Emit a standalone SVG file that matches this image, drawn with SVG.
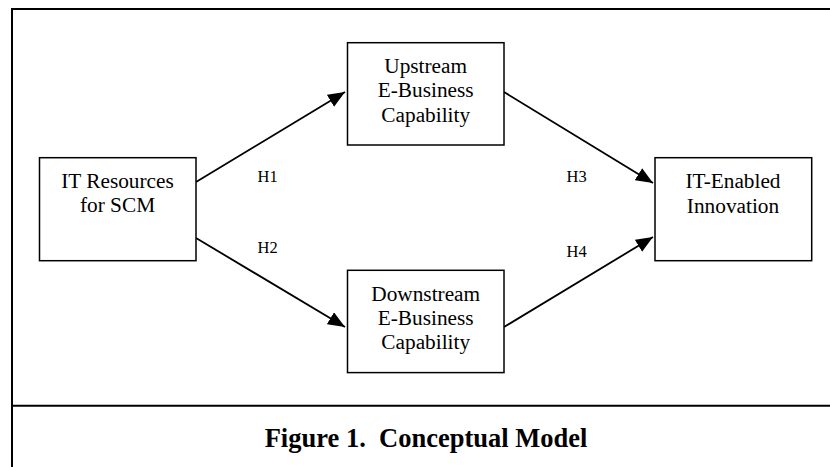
<svg xmlns="http://www.w3.org/2000/svg" width="830" height="467" viewBox="0 0 830 467">
  <style>
    .frame { fill: none; stroke: #000; stroke-width: 2; }
    .box { fill: #fff; stroke: #000; stroke-width: 1.5; }
    .label { font-family: "Liberation Serif", "Times New Roman", serif; font-size: 21.3px; fill: #000; text-anchor: middle; }
    .hyp { font-family: "Liberation Serif", "Times New Roman", serif; font-size: 16.5px; fill: #000; }
    .caption { font-family: "Liberation Serif", "Times New Roman", serif; font-size: 26.5px; font-weight: bold; fill: #000; text-anchor: middle; }
    .edge { stroke: #000; stroke-width: 1.8; fill: none; marker-end: url(#head); }
  </style>
  <defs>
    <marker id="head" markerUnits="userSpaceOnUse" markerWidth="18" markerHeight="14" refX="17" refY="7" orient="auto">
      <path d="M0,0 L17,7 L0,14 Z" fill="#000"/>
    </marker>
  </defs>

  <rect x="0" y="0" width="830" height="467" fill="#fff"/>

  <!-- outer frame and caption divider -->
  <path class="frame" d="M12,467 L12,9 L832,9"/>
  <line class="frame" x1="12" y1="405.7" x2="830" y2="405.7"/>

  <!-- connectors -->
  <g id="connectors">
    <line class="edge" x1="196" y1="182" x2="345" y2="92"/>
    <line class="edge" x1="196" y1="238" x2="345" y2="327"/>
    <line class="edge" x1="504" y1="92" x2="653" y2="183"/>
    <line class="edge" x1="504" y1="327" x2="653" y2="237"/>
    <text class="hyp" x="257.5" y="182">H1</text>
    <text class="hyp" x="257.5" y="253">H2</text>
    <text class="hyp" x="566.5" y="182">H3</text>
    <text class="hyp" x="566.5" y="257">H4</text>
  </g>

  <g id="it-resources">
    <rect class="box" x="39.5" y="157.7" width="156.5" height="103"/>
    <text class="label" x="117.5" y="188">IT Resources</text>
    <text class="label" x="117.5" y="212">for SCM</text>
  </g>

  <g id="upstream">
    <rect class="box" x="347.5" y="42.7" width="156.5" height="102.3"/>
    <text class="label" x="425.7" y="73">Upstream</text>
    <text class="label" x="425.7" y="97">E-Business</text>
    <text class="label" x="425.7" y="121.5">Capability</text>
  </g>

  <g id="downstream">
    <rect class="box" x="347.5" y="270.3" width="156.5" height="102.3"/>
    <text class="label" x="425.7" y="300.7">Downstream</text>
    <text class="label" x="425.7" y="325">E-Business</text>
    <text class="label" x="425.7" y="349">Capability</text>
  </g>

  <g id="innovation">
    <rect class="box" x="655" y="157.7" width="156.7" height="103"/>
    <text class="label" x="733" y="188">IT-Enabled</text>
    <text class="label" x="733" y="212.5">Innovation</text>
  </g>

  <text class="caption" x="426" y="447.3" xml:space="preserve">Figure 1.  Conceptual Model</text>
</svg>
